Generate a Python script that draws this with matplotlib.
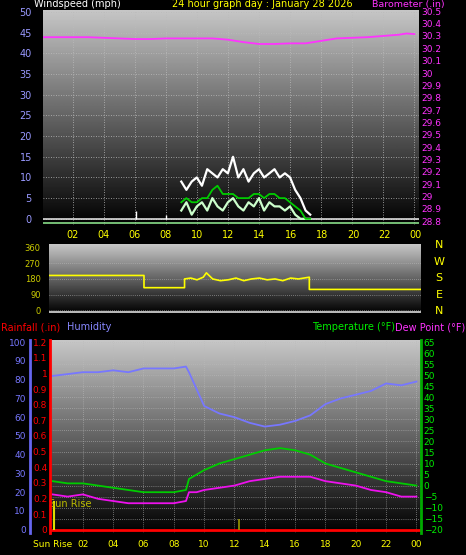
import matplotlib
matplotlib.use("Agg")
import matplotlib.pyplot as plt
import numpy as np

W, H = 466, 555
# ---- data ----
baro_h = [0,1,2,3,4,5,6,7,8,9,10,11,12,13,14,15,16,17,18,19,20,21,22,23,23.5,24]
baro = [30.29,30.29,30.29,30.29,30.285,30.28,30.275,30.275,30.28,30.28,30.28,30.28,30.27,30.25,30.235,30.235,30.24,30.24,30.26,30.28,30.285,30.29,30.3,30.31,30.32,30.315]
wind_h = [9.0,9.33,9.67,10.0,10.33,10.67,11.0,11.33,11.67,12.0,12.33,12.67,13.0,13.33,13.67,14.0,14.33,14.67,15.0,15.33,15.67,16.0,16.33,16.67,17.0,17.3]
gust = [9,7,9,10,8,12,11,10,12,11,15,10,12,9,11,12,10,11,12,10,11,10,7,5,2,1]
avg_w = [4,5,4,4,5,5,7,8,6,6,6,5,5,5,6,6,5,6,6,5,5,4,3,2,0,0]
low_w = [2,4,1,3,4,2,5,3,2,4,5,3,2,4,3,5,2,4,3,3,2,3,1,0,0,0]
dir_h = [0,6.6,6.6,9.2,9.2,9.6,10.0,10.4,10.6,11.0,11.5,12,12.5,13,13.5,14,14.5,15,15.5,16,16.5,17.2,17.2,24.4]
dirv = [200,200,130,130,180,185,175,190,215,180,170,175,185,170,180,185,175,180,170,185,180,190,120,120]
th = [0,1,2,3,4,5,6,7,8,8.8,9,9.5,10,11,12,13,14,15,16,17,18,19,20,21,22,23,24]
hum = [82,83,84,84,85,84,86,86,86,87,84,75,66,62,60,57,55,56,58,61,67,70,72,74,78,77,79]
temp = [2,1,1,0,-1,-2,-3,-3,-3,-2,3,5,7,10,12,14,16,17,16,14,10,8,6,4,2,1,0]
dew = [-4,-5,-4,-6,-7,-8,-8,-8,-8,-7,-3,-3,-2,-1,0,2,3,4,4,4,2,1,0,-2,-3,-5,-5]
hour_labels = ['02','04','06','08','10','12','14','16','18','20','22','00']

fig = plt.figure(figsize=(W/100, H/100), dpi=100, facecolor='black')

def ax_px(x0, y0, x1, y1):
    return fig.add_axes([x0/W, 1-y1/H, (x1-x0)/W, (y1-y0)/H])

def bg(ax):
    g = np.linspace(0.78, 0.0, 256).reshape(-1, 1)
    ax.imshow(g, extent=[0,1,0,1], transform=ax.transAxes, cmap='gray', vmin=0, vmax=1,
              aspect='auto', zorder=0)

def style(ax):
    ax.set_facecolor('black')
    for s in ax.spines.values():
        s.set_visible(False)
    ax.tick_params(length=0)

# ---- top panel ----
ax1 = ax_px(43, 10, 419, 225)
bg(ax1); style(ax1)
ax1.set_xlim(0.1, 24.3); ax1.set_ylim(-1.5, 50.5)
for y in range(0, 51, 5):
    ax1.axhline(y, color='#bbbbbb', lw=0.6, ls=(0, (1, 2)), zorder=1)
for h in range(2, 25, 2):
    ax1.axvline(h, color='#bbbbbb', lw=0.6, ls=(0, (1, 2)), zorder=1)
ax1.set_yticks(range(0, 51, 5))
ax1.tick_params(axis='y', colors='#9999ff', labelsize=7, pad=8)
ax1.set_xticks([])
ax1.axhline(0, color='#dddddd', lw=1.2, zorder=2)
ax1.axhline(-1, color='#88dd88', lw=1.2, zorder=2)
ax1.plot(wind_h, gust, color='white', lw=1.6, zorder=3)
ax1.plot(wind_h, low_w, color='#ccffcc', lw=1.6, zorder=4)
ax1.plot(wind_h, avg_w, color='#00cc00', lw=1.3, zorder=5)
ax1.vlines([6.1, 8.0], 0, [2, 1], color='white', lw=1, zorder=3)
ax1b = ax1.twinx()
style(ax1b)
ax1b.set_ylim(28.77, 30.51)
ax1b.set_yticks([round(28.8 + 0.1*i, 1) for i in range(18)])
ax1b.set_yticklabels(['28.8','28.9','29','29.1','29.2','29.3','29.4','29.5','29.6','29.7','29.8','29.9','30','30.1','30.2','30.3','30.4','30.5'])
ax1b.tick_params(axis='y', colors='#ff33ff', labelsize=6.5, pad=2)
ax1b.set_xticks([])
ax1b.plot(baro_h, baro, color='#ff33ff', lw=1.3)
fig.text(34/W, 1-4/H, 'Windspeed (mph)', color='white', fontsize=7, va='center')
fig.text(172/W, 1-4/H, '24 hour graph day : January 28 2026', color='yellow', fontsize=7, va='center')
fig.text(372/W, 1-4/H, 'Barometer (.in)', color='#ff33ff', fontsize=6.8, va='center')

# ---- middle panel ----
ax2 = ax_px(49, 244, 421, 313)
bg(ax2); style(ax2)
ax2.set_xlim(0.51, 24.36); ax2.set_ylim(-15, 380)
for y in [0, 90, 180, 270, 360]:
    ax2.axhline(y, color='#bbbbbb', lw=0.5, ls=(0, (1, 2)), zorder=1)
ax2.set_yticks([0, 90, 180, 270, 360])
ax2.tick_params(axis='y', colors='#cccc00', labelsize=6, pad=6)
ax2.xaxis.tick_top()
ax2.set_xticks(range(2, 25, 2)); ax2.set_xticklabels(hour_labels)
ax2.tick_params(axis='x', colors='yellow', labelsize=7, pad=3)
ax2.axhline(-8, color='#dddddd', lw=1.2, zorder=2)
ax2.plot(dir_h, dirv, color='yellow', lw=1.2, zorder=3)
for i, c in enumerate(['N', 'W', 'S', 'E', 'N']):
    fig.text(439/W, 1-(245 + i*16.5)/H, c, color='yellow', fontsize=8, ha='center', va='center')

# ---- bottom panel ----
fig.text(1/W, 1-327/H, 'Rainfall (.in)', color='red', fontsize=7, va='center')
fig.text(67/W, 1-327/H, 'Humidity', color='#8888ff', fontsize=7, va='center')
fig.text(312/W, 1-327/H, 'Temperature (°F)', color='#00ee00', fontsize=7, va='center')
fig.text(395/W, 1-327/H, 'Dew Point (°F)', color='#ff33ff', fontsize=7, va='center')
ax3 = ax_px(51, 340, 421, 533)
bg(ax3); style(ax3)
ax3.set_xlim(-0.1, 24.3); ax3.set_ylim(-21.5, 66)
for t in range(-20, 66, 5):
    ax3.axhline(t, color='#bbbbbb', lw=0.5, ls=(0, (1, 2)), zorder=1)
for h in range(2, 25, 2):
    ax3.axvline(h, color='#bbbbbb', lw=0.5, ls=(0, (1, 2)), zorder=1)
ax3.set_yticks([])
ax3.set_xticks([0] + list(range(2, 25, 2)))
ax3.set_xticklabels(['Sun Rise'] + hour_labels)
ax3.tick_params(axis='x', colors='yellow', labelsize=6.5, pad=5)
ax3.axhline(-20, color='red', lw=2, zorder=4)
ax3.vlines([0.1], -20, -7, color='#dddd00', lw=1.5, zorder=4)
ax3.vlines([12.3], -20, -15, color='#999900', lw=1.2, zorder=4)
ax3.text(-0.2, -9.5, 'Sun Rise', color='#bbbb00', fontsize=7, zorder=5)
ax3.plot(th, temp, color='#00cc00', lw=1.3, zorder=3)
ax3.plot(th, dew, color='#ee11ee', lw=1.3, zorder=3)
axh = ax3.twinx(); style(axh)
axh.set_ylim(-21.5*100/85 + 20*100/85, 100 + 1*100/85)
axh.plot(th, hum, color='#7777ff', lw=1.3, zorder=3)
axh.set_yticks([])
axt = ax3.twinx(); style(axt)
axt.set_ylim(-21.5, 66)
axt.set_yticks(range(-20, 66, 5))
axt.tick_params(axis='y', colors='#00ee00', labelsize=6.5, pad=2, left=False)
axt.spines['right'].set_visible(True); axt.spines['right'].set_color('#00aa00'); axt.spines['right'].set_linewidth(2)
axhl = ax_px(30, 340, 51, 533); axhl.set_facecolor('none')
for s in axhl.spines.values(): s.set_visible(False)
axhl.spines['left'].set_visible(True); axhl.spines['left'].set_color('#6666ee'); axhl.spines['left'].set_linewidth(2)
axhl.set_xticks([])
axhl.set_ylim(axh.get_ylim())
axhl.set_yticks(range(0, 101, 10))
axhl.tick_params(axis='y', colors='#7777ff', labelsize=6.5, length=0, pad=3)
axr = ax_px(50, 340, 51, 533); axr.set_facecolor('none')
for s in axr.spines.values(): s.set_visible(False)
axr.spines['left'].set_visible(True); axr.spines['left'].set_color('red'); axr.spines['left'].set_linewidth(2)
axr.set_xticks([])
rlo = -1.5/85*1.2
axr.set_ylim(rlo, 1.2 + 1/85*1.2)
axr.set_yticks([round(0.1*i, 1) for i in range(13)])
axr.set_yticklabels(['0','0.1','0.2','0.3','0.4','0.5','0.6','0.7','0.8','0.9','1','1.1','1.2'])
axr.tick_params(axis='y', colors='red', labelsize=6.5, length=0, pad=2)

fig.savefig('out.png', dpi=100, facecolor='black')
